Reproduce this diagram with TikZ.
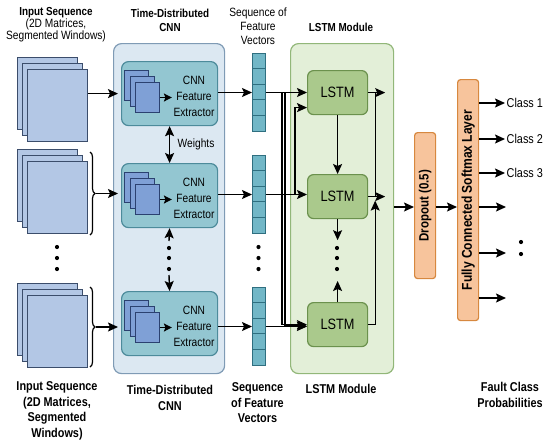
\documentclass[tikz,border=0pt]{standalone}
\usepackage{fontspec}
\setmainfont{Liberation Sans}[FakeStretch=0.85]
\usetikzlibrary{arrows.meta,decorations.pathreplacing,calc}
\definecolor{framefill}{HTML}{B3C7E5}
\definecolor{frameedge}{HTML}{3B4D6B}
\definecolor{cpanelfill}{HTML}{DCE8F2}
\definecolor{cpaneledge}{HTML}{7F9BB5}
\definecolor{cnnfill}{HTML}{93C6D1}
\definecolor{cnnedge}{HTML}{4D8B9B}
\definecolor{minifill}{HTML}{7FA0D6}
\definecolor{miniedge}{HTML}{2B4170}
\definecolor{vecfill}{HTML}{72B7C7}
\definecolor{vecedge}{HTML}{2F6F80}
\definecolor{lpanelfill}{HTML}{E3EFD8}
\definecolor{lpaneledge}{HTML}{92B779}
\definecolor{lstmfill}{HTML}{AAC98C}
\definecolor{lstmedge}{HTML}{6B914D}
\definecolor{ofill}{HTML}{F7C49C}
\definecolor{oedge}{HTML}{D7883F}
\newcommand\fsz[2]{\fontsize{#1}{#2}\selectfont}
\begin{document}
\begin{tikzpicture}[x=1pt,y=-1pt,line width=1.4pt,
  arr/.style={-{Stealth[length=10pt,width=9pt,inset=2pt]}},
  darr/.style={{Stealth[length=10pt,width=9pt,inset=2pt]}-{Stealth[length=10pt,width=9pt,inset=2pt]}},
  frame/.style={draw=frameedge,fill=framefill,line width=1.1pt,minimum width=60pt,minimum height=72pt,inner sep=0pt,anchor=north west},
  cpanel/.style={draw=cpaneledge,fill=cpanelfill,rounded corners=8pt,line width=1.2pt,inner sep=0pt,anchor=north west},
  lpanel/.style={draw=lpaneledge,fill=lpanelfill,rounded corners=8pt,line width=1.2pt,inner sep=0pt,anchor=north west},
  cnnbox/.style={draw=cnnedge,fill=cnnfill,rounded corners=7pt,line width=1.2pt,minimum width=96pt,minimum height=64pt,inner sep=0pt,anchor=north west},
  mini/.style={draw=miniedge,fill=minifill,line width=1pt,minimum width=24pt,minimum height=30pt,inner sep=0pt,anchor=north west},
  vec/.style={draw=vecedge,fill=vecfill,line width=1pt,minimum width=13pt,minimum height=78pt,inner sep=0pt,anchor=north west},
  lstmbox/.style={draw=lstmedge,fill=lstmfill,rounded corners=6pt,line width=1.2pt,minimum width=60pt,minimum height=44pt,inner sep=0pt,anchor=north west,font=\fsz{15}{16}},
  obox/.style={draw=oedge,fill=ofill,rounded corners=3pt,line width=1.2pt,inner sep=0pt,anchor=north west},
  dot/.style={circle,fill=black,inner sep=0pt,minimum size=4.2pt},
  ttl/.style={align=center,font=\fsz{11.6}{14}\bfseries},
  sub/.style={align=center,font=\fsz{12}{14}},
  btl/.style={align=center,font=\fsz{12.8}{15.5}\bfseries}]
\useasboundingbox (0,0) rectangle (550,448);

% titles
\node[align=center] (t1) at (56,25) {{\fsz{11.6}{14}\bfseries Input Sequence}\\{\fsz{12}{14}(2D Matrices,}\\{\fsz{12}{14}Segmented Windows)}};
\node[ttl] (t2) at (170,20) {Time-Distributed\\CNN};
\node[sub] (t3) at (258,26) {Sequence of\\Feature\\Vectors};
\node[ttl] (t4) at (341,27.5) {LSTM Module};

\node[btl] (b1) at (57,411) {Input Sequence\\(2D Matrices,\\Segmented\\Windows)};
\node[btl] (b2l) at (170,398) {Time-Distributed\\CNN};
\node[btl] (b3l) at (257.5,403) {Sequence\\of Feature\\Vectors};
\node[btl] (b4l) at (341,389) {LSTM Module};
\node[btl] (b5l) at (510,395) {Fault Class\\Probabilities};

% panels
\node[cpanel,minimum width=111pt,minimum height=330pt] (cnnpanel) at (113,43) {};
\node[lpanel,minimum width=103pt,minimum height=330pt] (lpanel) at (290,43) {};

% input frames
\foreach \g/\t in {1/57,2/149,3/283} {
  \node[frame] (f\g-a) at (17,\t) {};
  \node[frame] (f\g-b) at (22,\t+6) {};
  \node[frame] (f\g-c) at (27,\t+12) {};
}
\draw[decorate,decoration={brace,amplitude=5pt},line width=1.2pt] (90,152) -- (90,235);
\draw[decorate,decoration={brace,amplitude=5pt},line width=1.2pt] (90,287) -- (90,367);
\coordinate (br2) at (95.5,193.5);
\coordinate (br3) at (95.5,327);
\node[dot] (id1) at (57,247) {};
\node[dot] (id2) at (57,258) {};
\node[dot] (id3) at (57,269) {};

% CNN boxes
\foreach \i/\t in {1/61,2/163,3/291} {
  \node[cnnbox] (cnn\i) at (121,\t) {};
  \node[mini] (m\i-a) at (124,\t+9) {};
  \node[mini] (m\i-b) at (129.5,\t+15) {};
  \node[mini] (m\i-c) at (135,\t+21) {};
  \node[align=center,font=\fsz{12}{16},inner sep=1pt] (ct\i) at (194,\t+35) {CNN\\Feature\\Extractor};
  \draw[-{Stealth[length=8pt,width=8pt,inset=1.5pt]},line width=1.3pt] (m\i-c.east) -- (m\i-c.east -| ct\i.west);
}
\draw[arr] (f1-c.east |- cnn1) -- ([xshift=5pt]cnnpanel.west |- cnn1);
\draw[arr] (br2) -- ([xshift=5pt]cnnpanel.west |- br2);
\draw[arr] (br3) -- ([xshift=5pt]cnnpanel.west |- br3);

\draw[darr] (cnn1.south) -- (cnn2.north);
\node[anchor=west,font=\fsz{12}{14},inner sep=1pt] (wt) at (176,144) {Weights};
\node[dot] (cd1) at (169,248) {};
\node[dot] (cd2) at (169,258) {};
\node[dot] (cd3) at (169,269) {};
\draw[arr] ($(cd1)+(0,-7)$) -- (cnn2.south);
\draw[arr] ($(cd3)+(0,6)$) -- (cnn3.north);

% feature vectors
\foreach \i/\t in {1/53,2/155,3/287} {
  \node[vec] (v\i) at (252,\t) {};
  \foreach \k in {1,...,4} {
    \draw[vecedge,line width=1pt] (252,\t+\k*15.6) -- (265,\t+\k*15.6);
  }
  \draw[arr] (cnn\i.east |- v\i) -- (v\i.west);
}
\node[dot] (vd1) at (258.5,247) {};
\node[dot] (vd2) at (258.5,258) {};
\node[dot] (vd3) at (258.5,269) {};

% LSTM boxes
\foreach \i/\t in {1/70,2/174,3/302} {
  \node[lstmbox] (l\i) at (307,\t) {LSTM};
}
\draw[arr] (v1.east) -- (l1.west |- v1.east);
\draw[arr] (v2.east) -- (l2.west |- v2.east);
\draw[arr] (v3.east) -- (l3.west |- v3.east);
\draw[arr] ($(v1.east)+(16,0)$) |- ($(l3.west)+(0,0)$);
\draw[arr] ($(v1.east)+(19,0)$) |- ($(l3.west)+(0,1.5)$);
\draw[arr] ($(v2.east)+(29,0)$) |- ($(l1.west)+(0,15)$);
\draw[arr] (l1.south) -- (l2.north);
\draw[arr] (l2.south) -- ++(0,21);
\node[dot] (ld1) at (337,248) {};
\node[dot] (ld2) at (337,258) {};
\node[dot] (ld3) at (337,269) {};
\draw[arr] (l3.north) -- ++(0,-21);
\draw[arr] (l1.east) -- ++(17,0);
\draw[arr] (l2.east) -- ++(17,0);
\draw ($(l1.east)+(7,0)$) -- ($(l2.east)+(7,0)$);
\draw[arr] (l3.east) -| ($(l2.east)+(7,4)$);

% dropout and FC
\node[obox,minimum width=21pt,minimum height=146pt] (drop) at (414,132) {};
\node[rotate=90,font=\fsz{13.5}{14}\bfseries] (dropt) at (drop.center) {Dropout (0.5)};
\node[obox,minimum width=21pt,minimum height=241pt] (fc) at (457,79) {};
\node[rotate=90,font=\fsz{14.2}{14}\bfseries] (fct) at (fc.center) {Fully Connected Softmax Layer};
\draw[arr] (lpanel.east |- 0,207) -- (drop.west |- 0,207);
\draw[arr] (drop.east |- 0,207) -- (fc.west |- 0,207);

% outputs
\node[anchor=west,font=\fsz{12.8}{14},inner sep=1pt] (c1) at (505,103) {Class 1};
\node[anchor=west,font=\fsz{12.8}{14},inner sep=1pt] (c2) at (505,139) {Class 2};
\node[anchor=west,font=\fsz{12.8}{14},inner sep=1pt] (c3) at (505,173) {Class 3};
\coordinate (o4) at (506,207);
\coordinate (o5) at (506,253);
\coordinate (o6) at (506,298);
\draw[arr] (fc.east |- c1) -- (c1.west);
\draw[arr] (fc.east |- c2) -- (c2.west);
\draw[arr] (fc.east |- c3) -- (c3.west);
\draw[arr] (fc.east |- o4) -- (o4);
\draw[arr] (fc.east |- o5) -- (o5);
\draw[arr] (fc.east |- o6) -- (o6);
\node[dot] (od1) at (521,242) {};
\node[dot] (od2) at (521,254) {};
\end{tikzpicture}
\end{document}
